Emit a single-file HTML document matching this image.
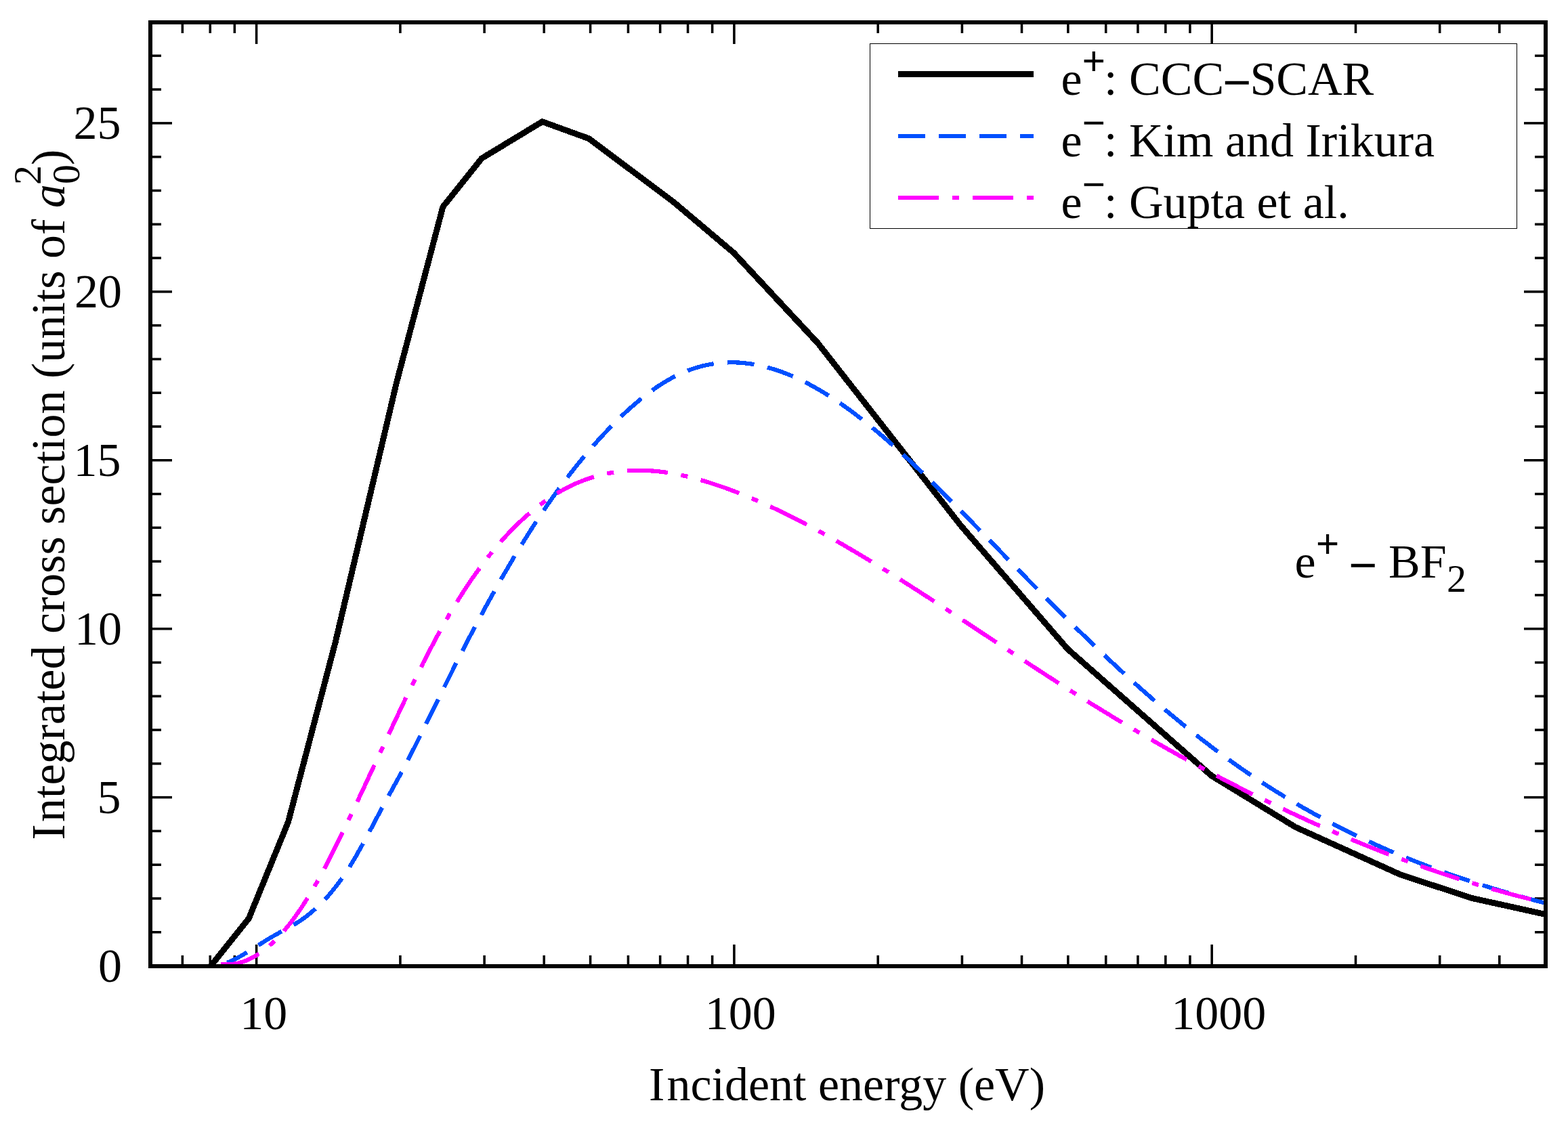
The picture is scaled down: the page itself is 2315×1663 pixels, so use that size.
<!DOCTYPE html>
<html lang="en"><head><meta charset="utf-8"><title>Integrated cross section</title>
<style>html,body{margin:0;padding:0;background:#fff}svg{display:block}text{font-family:"Liberation Serif","DejaVu Serif",serif;fill:#000}.t{font-size:70px}.s{font-size:58px}</style></head><body>
<svg width="2315" height="1663" viewBox="0 0 2315 1663">
<rect x="0" y="0" width="2315" height="1663" fill="#fff"/>
<defs><clipPath id="c"><rect x="222.0" y="33.0" width="2060.0" height="1394.0"/></clipPath></defs>
<g stroke="#000" stroke-width="3.55">
<line x1="269.37" y1="33.0" x2="269.37" y2="49.0"/>
<line x1="269.37" y1="1427.0" x2="269.37" y2="1411.0"/>
<line x1="310.27" y1="33.0" x2="310.27" y2="49.0"/>
<line x1="310.27" y1="1427.0" x2="310.27" y2="1411.0"/>
<line x1="346.34" y1="33.0" x2="346.34" y2="49.0"/>
<line x1="346.34" y1="1427.0" x2="346.34" y2="1411.0"/>
<line x1="378.62" y1="33.0" x2="378.62" y2="65.0"/>
<line x1="378.62" y1="1427.0" x2="378.62" y2="1395.0"/>
<line x1="590.93" y1="33.0" x2="590.93" y2="49.0"/>
<line x1="590.93" y1="1427.0" x2="590.93" y2="1411.0"/>
<line x1="715.12" y1="33.0" x2="715.12" y2="49.0"/>
<line x1="715.12" y1="1427.0" x2="715.12" y2="1411.0"/>
<line x1="803.24" y1="33.0" x2="803.24" y2="49.0"/>
<line x1="803.24" y1="1427.0" x2="803.24" y2="1411.0"/>
<line x1="871.59" y1="33.0" x2="871.59" y2="49.0"/>
<line x1="871.59" y1="1427.0" x2="871.59" y2="1411.0"/>
<line x1="927.43" y1="33.0" x2="927.43" y2="49.0"/>
<line x1="927.43" y1="1427.0" x2="927.43" y2="1411.0"/>
<line x1="974.65" y1="33.0" x2="974.65" y2="49.0"/>
<line x1="974.65" y1="1427.0" x2="974.65" y2="1411.0"/>
<line x1="1015.55" y1="33.0" x2="1015.55" y2="49.0"/>
<line x1="1015.55" y1="1427.0" x2="1015.55" y2="1411.0"/>
<line x1="1051.63" y1="33.0" x2="1051.63" y2="49.0"/>
<line x1="1051.63" y1="1427.0" x2="1051.63" y2="1411.0"/>
<line x1="1083.90" y1="33.0" x2="1083.90" y2="65.0"/>
<line x1="1083.90" y1="1427.0" x2="1083.90" y2="1395.0"/>
<line x1="1296.21" y1="33.0" x2="1296.21" y2="49.0"/>
<line x1="1296.21" y1="1427.0" x2="1296.21" y2="1411.0"/>
<line x1="1420.40" y1="33.0" x2="1420.40" y2="49.0"/>
<line x1="1420.40" y1="1427.0" x2="1420.40" y2="1411.0"/>
<line x1="1508.52" y1="33.0" x2="1508.52" y2="49.0"/>
<line x1="1508.52" y1="1427.0" x2="1508.52" y2="1411.0"/>
<line x1="1576.87" y1="33.0" x2="1576.87" y2="49.0"/>
<line x1="1576.87" y1="1427.0" x2="1576.87" y2="1411.0"/>
<line x1="1632.71" y1="33.0" x2="1632.71" y2="49.0"/>
<line x1="1632.71" y1="1427.0" x2="1632.71" y2="1411.0"/>
<line x1="1679.93" y1="33.0" x2="1679.93" y2="49.0"/>
<line x1="1679.93" y1="1427.0" x2="1679.93" y2="1411.0"/>
<line x1="1720.83" y1="33.0" x2="1720.83" y2="49.0"/>
<line x1="1720.83" y1="1427.0" x2="1720.83" y2="1411.0"/>
<line x1="1756.91" y1="33.0" x2="1756.91" y2="49.0"/>
<line x1="1756.91" y1="1427.0" x2="1756.91" y2="1411.0"/>
<line x1="1789.18" y1="33.0" x2="1789.18" y2="65.0"/>
<line x1="1789.18" y1="1427.0" x2="1789.18" y2="1395.0"/>
<line x1="2001.49" y1="33.0" x2="2001.49" y2="49.0"/>
<line x1="2001.49" y1="1427.0" x2="2001.49" y2="1411.0"/>
<line x1="2125.68" y1="33.0" x2="2125.68" y2="49.0"/>
<line x1="2125.68" y1="1427.0" x2="2125.68" y2="1411.0"/>
<line x1="2213.80" y1="33.0" x2="2213.80" y2="49.0"/>
<line x1="2213.80" y1="1427.0" x2="2213.80" y2="1411.0"/>
<line x1="222.0" y1="1376.76" x2="238.0" y2="1376.76"/>
<line x1="2282.0" y1="1376.76" x2="2266.0" y2="1376.76"/>
<line x1="222.0" y1="1326.98" x2="238.0" y2="1326.98"/>
<line x1="2282.0" y1="1326.98" x2="2266.0" y2="1326.98"/>
<line x1="222.0" y1="1277.19" x2="238.0" y2="1277.19"/>
<line x1="2282.0" y1="1277.19" x2="2266.0" y2="1277.19"/>
<line x1="222.0" y1="1227.41" x2="238.0" y2="1227.41"/>
<line x1="2282.0" y1="1227.41" x2="2266.0" y2="1227.41"/>
<line x1="222.0" y1="1177.62" x2="254.0" y2="1177.62"/>
<line x1="2282.0" y1="1177.62" x2="2250.0" y2="1177.62"/>
<line x1="222.0" y1="1127.84" x2="238.0" y2="1127.84"/>
<line x1="2282.0" y1="1127.84" x2="2266.0" y2="1127.84"/>
<line x1="222.0" y1="1078.05" x2="238.0" y2="1078.05"/>
<line x1="2282.0" y1="1078.05" x2="2266.0" y2="1078.05"/>
<line x1="222.0" y1="1028.26" x2="238.0" y2="1028.26"/>
<line x1="2282.0" y1="1028.26" x2="2266.0" y2="1028.26"/>
<line x1="222.0" y1="978.48" x2="238.0" y2="978.48"/>
<line x1="2282.0" y1="978.48" x2="2266.0" y2="978.48"/>
<line x1="222.0" y1="928.69" x2="254.0" y2="928.69"/>
<line x1="2282.0" y1="928.69" x2="2250.0" y2="928.69"/>
<line x1="222.0" y1="878.91" x2="238.0" y2="878.91"/>
<line x1="2282.0" y1="878.91" x2="2266.0" y2="878.91"/>
<line x1="222.0" y1="829.12" x2="238.0" y2="829.12"/>
<line x1="2282.0" y1="829.12" x2="2266.0" y2="829.12"/>
<line x1="222.0" y1="779.34" x2="238.0" y2="779.34"/>
<line x1="2282.0" y1="779.34" x2="2266.0" y2="779.34"/>
<line x1="222.0" y1="729.55" x2="238.0" y2="729.55"/>
<line x1="2282.0" y1="729.55" x2="2266.0" y2="729.55"/>
<line x1="222.0" y1="679.76" x2="254.0" y2="679.76"/>
<line x1="2282.0" y1="679.76" x2="2250.0" y2="679.76"/>
<line x1="222.0" y1="629.98" x2="238.0" y2="629.98"/>
<line x1="2282.0" y1="629.98" x2="2266.0" y2="629.98"/>
<line x1="222.0" y1="580.19" x2="238.0" y2="580.19"/>
<line x1="2282.0" y1="580.19" x2="2266.0" y2="580.19"/>
<line x1="222.0" y1="530.41" x2="238.0" y2="530.41"/>
<line x1="2282.0" y1="530.41" x2="2266.0" y2="530.41"/>
<line x1="222.0" y1="480.62" x2="238.0" y2="480.62"/>
<line x1="2282.0" y1="480.62" x2="2266.0" y2="480.62"/>
<line x1="222.0" y1="430.84" x2="254.0" y2="430.84"/>
<line x1="2282.0" y1="430.84" x2="2250.0" y2="430.84"/>
<line x1="222.0" y1="381.05" x2="238.0" y2="381.05"/>
<line x1="2282.0" y1="381.05" x2="2266.0" y2="381.05"/>
<line x1="222.0" y1="331.26" x2="238.0" y2="331.26"/>
<line x1="2282.0" y1="331.26" x2="2266.0" y2="331.26"/>
<line x1="222.0" y1="281.48" x2="238.0" y2="281.48"/>
<line x1="2282.0" y1="281.48" x2="2266.0" y2="281.48"/>
<line x1="222.0" y1="231.69" x2="238.0" y2="231.69"/>
<line x1="2282.0" y1="231.69" x2="2266.0" y2="231.69"/>
<line x1="222.0" y1="181.91" x2="254.0" y2="181.91"/>
<line x1="2282.0" y1="181.91" x2="2250.0" y2="181.91"/>
<line x1="222.0" y1="132.12" x2="238.0" y2="132.12"/>
<line x1="2282.0" y1="132.12" x2="2266.0" y2="132.12"/>
<line x1="222.0" y1="82.34" x2="238.0" y2="82.34"/>
<line x1="2282.0" y1="82.34" x2="2266.0" y2="82.34"/>
</g>
<g clip-path="url(#c)" fill="none" stroke-linejoin="round" shape-rendering="crispEdges">
<polyline points="311.0,1427.0 367.3,1356.6 425.5,1214.0 495.2,948.4 585.2,566.1 653.9,305.4 711.2,233.9 800.6,179.7 869.3,204.6 994.3,298.2 1083.3,373.4 1207.6,506.9 1418.2,775.8 1576.2,958.5 1788.8,1145.8 1912.5,1221.5 2067.7,1291.8 2173.2,1326.5 2282.0,1350.5" stroke="#000" stroke-width="8.9"/>
<polyline points="335.4,1421.9 340.3,1419.8 345.2,1417.5 350.0,1415.0 354.9,1412.3 359.8,1409.5 364.7,1406.6 369.6,1403.6 374.4,1400.5 379.3,1397.4 384.2,1394.3 389.1,1391.3 393.9,1388.2 398.8,1385.2 403.7,1382.4 408.6,1379.6 413.5,1376.9 418.3,1374.3 423.2,1371.7 428.1,1369.1 433.0,1366.3 437.9,1363.3 442.7,1360.2 447.6,1356.8 452.5,1353.2 457.4,1349.3 462.2,1345.2 467.1,1340.9 472.0,1336.3 476.9,1331.4 481.8,1326.2 486.6,1320.7 491.5,1314.8 496.4,1308.7 501.3,1302.2 506.2,1295.4 511.0,1288.2 515.9,1280.6 520.8,1272.6 525.7,1264.3 530.5,1255.7 535.4,1246.9 540.3,1237.9 545.2,1228.8 550.1,1219.6 554.9,1210.4 559.8,1201.2 564.7,1192.1 569.6,1183.1 574.5,1174.2 579.3,1165.3 584.2,1156.4 589.1,1147.4 594.0,1138.3 598.8,1129.0 603.7,1119.7 608.6,1110.2 613.5,1100.6 618.4,1090.8 623.2,1081.1 628.1,1071.2 633.0,1061.3 637.9,1051.4 642.8,1041.5 647.6,1031.6 652.5,1021.6 657.4,1011.8 662.3,1001.9 667.2,992.1 672.0,982.4 676.9,972.8 681.8,963.2 686.7,953.7 691.5,944.3 696.4,934.9 701.3,925.7 706.2,916.5 711.1,907.4 715.9,898.4 720.8,889.5 725.7,880.6 730.6,871.9 735.5,863.2 740.3,854.6 745.2,846.2 750.1,837.8 755.0,829.5 759.8,821.3 764.7,813.2 769.6,805.3 774.5,797.4 779.4,789.6 784.2,781.9 789.1,774.4 794.0,766.9 798.9,759.6 803.8,752.3 808.6,745.2 813.5,738.2 818.4,731.3 823.3,724.5 828.1,717.9 833.0,711.3 837.9,704.9 842.8,698.5 847.7,692.3 852.5,686.2 857.4,680.2 862.3,674.3 867.2,668.5 872.1,662.8 876.9,657.2 881.8,651.7 886.7,646.3 891.6,641.0 896.5,635.9 901.3,630.8 906.2,625.8 911.1,621.0 916.0,616.2 920.8,611.6 925.7,607.0 930.6,602.6 935.5,598.3 940.4,594.2 945.2,590.1 950.1,586.2 955.0,582.4 959.9,578.7 964.8,575.2 969.6,571.8 974.5,568.6 979.4,565.5 984.3,562.6 989.1,559.8 994.0,557.1 998.9,554.6 1003.8,552.3 1008.7,550.1 1013.5,548.1 1018.4,546.3 1023.3,544.6 1028.2,543.0 1033.1,541.6 1037.9,540.3 1042.8,539.2 1047.7,538.3 1052.6,537.4 1057.4,536.7 1062.3,536.2 1067.2,535.8 1072.1,535.5 1077.0,535.3 1081.8,535.3 1086.7,535.4 1091.6,535.6 1096.5,536.0 1101.4,536.5 1106.2,537.1 1111.1,537.9 1116.0,538.7 1120.9,539.7 1125.7,540.8 1130.6,542.0 1135.5,543.3 1140.4,544.7 1145.3,546.2 1150.1,547.9 1155.0,549.6 1159.9,551.5 1164.8,553.4 1169.7,555.5 1174.5,557.6 1179.4,559.9 1184.3,562.2 1189.2,564.7 1194.1,567.2 1198.9,569.9 1203.8,572.6 1208.7,575.4 1213.6,578.3 1218.4,581.2 1223.3,584.3 1228.2,587.4 1233.1,590.6 1238.0,593.9 1242.8,597.3 1247.7,600.7 1252.6,604.2 1257.5,607.8 1262.4,611.5 1267.2,615.2 1272.1,619.0 1277.0,622.8 1281.9,626.7 1286.7,630.7 1291.6,634.7 1296.5,638.8 1301.4,642.9 1306.3,647.1 1311.1,651.4 1316.0,655.7 1320.9,660.0 1325.8,664.4 1330.7,668.8 1335.5,673.3 1340.4,677.8 1345.3,682.4 1350.2,687.0 1355.0,691.6 1359.9,696.3 1364.8,701.0 1369.7,705.7 1374.6,710.5 1379.4,715.3 1384.3,720.1 1389.2,725.0 1394.1,729.8 1399.0,734.7 1403.8,739.6 1408.7,744.5 1413.6,749.5 1418.5,754.4 1423.3,759.4 1428.2,764.4 1433.1,769.4 1438.0,774.4 1442.9,779.4 1447.7,784.4 1452.6,789.4 1457.5,794.4 1462.4,799.4 1467.3,804.4 1472.1,809.4 1477.0,814.4 1481.9,819.5 1486.8,824.5 1491.7,829.5 1496.5,834.5 1501.4,839.5 1506.3,844.5 1511.2,849.4 1516.0,854.4 1520.9,859.4 1525.8,864.4 1530.7,869.3 1535.6,874.3 1540.4,879.2 1545.3,884.1 1550.2,889.0 1555.1,894.0 1560.0,898.8 1564.8,903.7 1569.7,908.6 1574.6,913.4 1579.5,918.3 1584.3,923.1 1589.2,927.9 1594.1,932.7 1599.0,937.4 1603.9,942.2 1608.7,946.9 1613.6,951.6 1618.5,956.3 1623.4,960.9 1628.3,965.6 1633.1,970.2 1638.0,974.8 1642.9,979.4 1647.8,983.9 1652.6,988.4 1657.5,992.9 1662.4,997.4 1667.3,1001.8 1672.2,1006.2 1677.0,1010.6 1681.9,1015.0 1686.8,1019.3 1691.7,1023.6 1696.6,1027.9 1701.4,1032.1 1706.3,1036.3 1711.2,1040.5 1716.1,1044.7 1720.9,1048.8 1725.8,1052.9 1730.7,1057.0 1735.6,1061.0 1740.5,1065.0 1745.3,1069.0 1750.2,1073.0 1755.1,1076.9 1760.0,1080.8 1764.9,1084.7 1769.7,1088.5 1774.6,1092.3 1779.5,1096.1 1784.4,1099.8 1789.3,1103.5 1794.1,1107.2 1799.0,1110.8 1803.9,1114.4 1808.8,1118.0 1813.6,1121.5 1818.5,1125.0 1823.4,1128.5 1828.3,1132.0 1833.2,1135.4 1838.0,1138.7 1842.9,1142.1 1847.8,1145.4 1852.7,1148.6 1857.6,1151.9 1862.4,1155.1 1867.3,1158.3 1872.2,1161.4 1877.1,1164.5 1881.9,1167.6 1886.8,1170.6 1891.7,1173.6 1896.6,1176.6 1901.5,1179.6 1906.3,1182.5 1911.2,1185.4 1916.1,1188.2 1921.0,1191.1 1925.9,1193.9 1930.7,1196.6 1935.6,1199.4 1940.5,1202.1 1945.4,1204.8 1950.2,1207.4 1955.1,1210.0 1960.0,1212.6 1964.9,1215.2 1969.8,1217.7 1974.6,1220.3 1979.5,1222.7 1984.4,1225.2 1989.3,1227.6 1994.2,1230.0 1999.0,1232.4 2003.9,1234.8 2008.8,1237.1 2013.7,1239.4 2018.6,1241.7 2023.4,1243.9 2028.3,1246.2 2033.2,1248.4 2038.1,1250.6 2042.9,1252.7 2047.8,1254.8 2052.7,1257.0 2057.6,1259.0 2062.5,1261.1 2067.3,1263.1 2072.2,1265.2 2077.1,1267.1 2082.0,1269.1 2086.9,1271.1 2091.7,1273.0 2096.6,1274.9 2101.5,1276.8 2106.4,1278.7 2111.2,1280.5 2116.1,1282.3 2121.0,1284.1 2125.9,1285.9 2130.8,1287.7 2135.6,1289.4 2140.5,1291.2 2145.4,1292.9 2150.3,1294.6 2155.2,1296.2 2160.0,1297.9 2164.9,1299.5 2169.8,1301.1 2174.7,1302.7 2179.5,1304.3 2184.4,1305.9 2189.3,1307.4 2194.2,1309.0 2199.1,1310.5 2203.9,1312.0 2208.8,1313.4 2213.7,1314.9 2218.6,1316.4 2223.5,1317.8 2228.3,1319.2 2233.2,1320.6 2238.1,1322.0 2243.0,1323.4 2247.8,1324.8 2252.7,1326.1 2257.6,1327.5 2262.5,1328.8 2267.4,1330.1 2272.2,1331.4 2277.1,1332.7 2282.0,1334.0" stroke="#0050ff" stroke-width="6.2" stroke-dasharray="40 20" stroke-dashoffset="7"/>
<polyline points="325.6,1423.7 330.5,1424.2 335.4,1424.4 340.3,1424.2 345.2,1423.6 350.1,1422.8 355.0,1421.6 359.9,1420.0 364.8,1418.1 369.7,1415.9 374.6,1413.3 379.5,1410.4 384.4,1407.2 389.3,1403.6 394.2,1399.7 399.1,1395.5 404.1,1390.9 409.0,1386.0 413.9,1380.9 418.8,1375.3 423.7,1369.5 428.6,1363.4 433.5,1356.9 438.4,1350.1 443.3,1343.0 448.2,1335.6 453.1,1327.9 458.0,1319.9 462.9,1311.6 467.8,1303.1 472.7,1294.3 477.6,1285.2 482.5,1275.9 487.4,1266.5 492.3,1256.8 497.2,1247.0 502.1,1237.1 507.0,1227.0 511.9,1216.9 516.8,1206.6 521.7,1196.3 526.6,1185.9 531.5,1175.4 536.4,1165.0 541.3,1154.5 546.2,1143.9 551.1,1133.4 556.1,1122.8 561.0,1112.2 565.9,1101.7 570.8,1091.2 575.7,1080.7 580.6,1070.2 585.5,1059.8 590.4,1049.4 595.3,1039.1 600.2,1028.9 605.1,1018.8 610.0,1008.7 614.9,998.8 619.8,989.0 624.7,979.2 629.6,969.6 634.5,960.2 639.4,950.9 644.3,941.7 649.2,932.7 654.1,923.9 659.0,915.2 663.9,906.8 668.8,898.5 673.7,890.5 678.6,882.6 683.5,874.9 688.4,867.4 693.3,860.1 698.2,852.9 703.2,846.0 708.1,839.2 713.0,832.6 717.9,826.2 722.8,819.9 727.7,813.9 732.6,808.0 737.5,802.3 742.4,796.7 747.3,791.3 752.2,786.1 757.1,781.0 762.0,776.1 766.9,771.4 771.8,766.8 776.7,762.4 781.6,758.2 786.5,754.1 791.4,750.1 796.3,746.3 801.2,742.7 806.1,739.2 811.0,735.8 815.9,732.6 820.8,729.6 825.7,726.6 830.6,723.9 835.5,721.2 840.4,718.7 845.3,716.3 850.2,714.1 855.2,712.0 860.1,710.0 865.0,708.2 869.9,706.5 874.8,704.9 879.7,703.4 884.6,702.1 889.5,700.9 894.4,699.7 899.3,698.8 904.2,697.9 909.1,697.1 914.0,696.5 918.9,695.9 923.8,695.5 928.7,695.1 933.6,694.9 938.5,694.8 943.4,694.7 948.3,694.8 953.2,694.9 958.1,695.2 963.0,695.5 967.9,695.9 972.8,696.4 977.7,697.0 982.6,697.6 987.5,698.4 992.4,699.2 997.3,700.1 1002.2,701.0 1007.2,702.1 1012.1,703.1 1017.0,704.3 1021.9,705.5 1026.8,706.8 1031.7,708.2 1036.6,709.6 1041.5,711.0 1046.4,712.5 1051.3,714.1 1056.2,715.7 1061.1,717.3 1066.0,719.0 1070.9,720.7 1075.8,722.5 1080.7,724.3 1085.6,726.2 1090.5,728.1 1095.4,730.0 1100.3,732.0 1105.2,734.0 1110.1,736.1 1115.0,738.2 1119.9,740.3 1124.8,742.5 1129.7,744.7 1134.6,746.9 1139.5,749.1 1144.4,751.4 1149.3,753.8 1154.3,756.1 1159.2,758.5 1164.1,760.9 1169.0,763.4 1173.9,765.9 1178.8,768.4 1183.7,770.9 1188.6,773.5 1193.5,776.1 1198.4,778.7 1203.3,781.3 1208.2,784.0 1213.1,786.7 1218.0,789.4 1222.9,792.2 1227.8,794.9 1232.7,797.7 1237.6,800.5 1242.5,803.3 1247.4,806.2 1252.3,809.0 1257.2,811.9 1262.1,814.8 1267.0,817.7 1271.9,820.7 1276.8,823.6 1281.7,826.6 1286.6,829.5 1291.5,832.5 1296.4,835.5 1301.3,838.6 1306.3,841.6 1311.2,844.7 1316.1,847.7 1321.0,850.8 1325.9,853.9 1330.8,857.0 1335.7,860.1 1340.6,863.2 1345.5,866.3 1350.4,869.5 1355.3,872.6 1360.2,875.8 1365.1,879.0 1370.0,882.1 1374.9,885.3 1379.8,888.5 1384.7,891.7 1389.6,894.9 1394.5,898.1 1399.4,901.3 1404.3,904.6 1409.2,907.8 1414.1,911.0 1419.0,914.3 1423.9,917.5 1428.8,920.7 1433.7,924.0 1438.6,927.2 1443.5,930.5 1448.4,933.7 1453.3,937.0 1458.3,940.2 1463.2,943.5 1468.1,946.7 1473.0,950.0 1477.9,953.2 1482.8,956.4 1487.7,959.7 1492.6,962.9 1497.5,966.2 1502.4,969.4 1507.3,972.6 1512.2,975.8 1517.1,979.1 1522.0,982.3 1526.9,985.5 1531.8,988.7 1536.7,991.9 1541.6,995.1 1546.5,998.3 1551.4,1001.4 1556.3,1004.6 1561.2,1007.8 1566.1,1010.9 1571.0,1014.0 1575.9,1017.2 1580.8,1020.3 1585.7,1023.4 1590.6,1026.5 1595.5,1029.6 1600.4,1032.6 1605.4,1035.7 1610.3,1038.8 1615.2,1041.8 1620.1,1044.8 1625.0,1047.8 1629.9,1050.9 1634.8,1053.8 1639.7,1056.8 1644.6,1059.8 1649.5,1062.8 1654.4,1065.7 1659.3,1068.6 1664.2,1071.6 1669.1,1074.5 1674.0,1077.4 1678.9,1080.3 1683.8,1083.1 1688.7,1086.0 1693.6,1088.9 1698.5,1091.7 1703.4,1094.5 1708.3,1097.3 1713.2,1100.1 1718.1,1102.9 1723.0,1105.7 1727.9,1108.5 1732.8,1111.2 1737.7,1114.0 1742.6,1116.7 1747.5,1119.4 1752.4,1122.1 1757.4,1124.8 1762.3,1127.5 1767.2,1130.2 1772.1,1132.8 1777.0,1135.5 1781.9,1138.1 1786.8,1140.7 1791.7,1143.3 1796.6,1145.9 1801.5,1148.5 1806.4,1151.1 1811.3,1153.6 1816.2,1156.2 1821.1,1158.7 1826.0,1161.2 1830.9,1163.7 1835.8,1166.2 1840.7,1168.7 1845.6,1171.1 1850.5,1173.6 1855.4,1176.0 1860.3,1178.4 1865.2,1180.8 1870.1,1183.2 1875.0,1185.6 1879.9,1188.0 1884.8,1190.4 1889.7,1192.7 1894.6,1195.0 1899.5,1197.3 1904.4,1199.6 1909.4,1201.9 1914.3,1204.2 1919.2,1206.5 1924.1,1208.7 1929.0,1211.0 1933.9,1213.2 1938.8,1215.4 1943.7,1217.6 1948.6,1219.8 1953.5,1221.9 1958.4,1224.1 1963.3,1226.2 1968.2,1228.3 1973.1,1230.4 1978.0,1232.5 1982.9,1234.6 1987.8,1236.7 1992.7,1238.7 1997.6,1240.8 2002.5,1242.8 2007.4,1244.8 2012.3,1246.8 2017.2,1248.8 2022.1,1250.8 2027.0,1252.7 2031.9,1254.6 2036.8,1256.6 2041.7,1258.5 2046.6,1260.4 2051.5,1262.3 2056.5,1264.1 2061.4,1266.0 2066.3,1267.8 2071.2,1269.6 2076.1,1271.4 2081.0,1273.2 2085.9,1275.0 2090.8,1276.8 2095.7,1278.5 2100.6,1280.2 2105.5,1282.0 2110.4,1283.7 2115.3,1285.3 2120.2,1287.0 2125.1,1288.7 2130.0,1290.3 2134.9,1291.9 2139.8,1293.5 2144.7,1295.1 2149.6,1296.7 2154.5,1298.3 2159.4,1299.8 2164.3,1301.4 2169.2,1302.9 2174.1,1304.4 2179.0,1305.9 2183.9,1307.4 2188.8,1308.8 2193.7,1310.2 2198.6,1311.7 2203.5,1313.1 2208.5,1314.5 2213.4,1315.8 2218.3,1317.2 2223.2,1318.6 2228.1,1319.9 2233.0,1321.2 2237.9,1322.5 2242.8,1323.8 2247.7,1325.0 2252.6,1326.3 2257.5,1327.5 2262.4,1328.7 2267.3,1329.9 2272.2,1331.1 2277.1,1332.3 2282.0,1333.4" stroke="#ff00ff" stroke-width="6.2" stroke-dasharray="60 20 10 20" stroke-dashoffset="0"/>
</g>
<rect x="222.0" y="33.0" width="2060.0" height="1394.0" fill="none" stroke="#000" stroke-width="6" shape-rendering="crispEdges"/>
<text class="t" x="179.9" y="1449.9" text-anchor="end">0</text>
<text class="t" x="178.4" y="1201.0" text-anchor="end">5</text>
<text class="t" x="179.9" y="952.0" text-anchor="end">10</text>
<text class="t" x="178.4" y="703.1" text-anchor="end">15</text>
<text class="t" x="179.9" y="454.2" text-anchor="end">20</text>
<text class="t" x="178.4" y="205.3" text-anchor="end">25</text>
<text class="t" x="354.3" y="1520">10</text>
<text class="t" x="1040.7" y="1520">100</text>
<text class="t" x="1729.3" y="1520">1000</text>
<text class="t" x="957.9" y="1625" dx="0 3.3">Incident energy (eV)</text>
<g transform="translate(95.2 0) rotate(-90)"><text class="t" x="-1240.6" y="0" dx="0 3.3" xml:space="preserve">Integrated cross section (units of </text><text class="t" x="-306.9" y="0" font-style="italic">a</text><text class="s" x="-271.9" y="21.3">0</text><text class="s" x="-272.9" y="-35.3">2</text><text class="t" x="-244" y="0">)</text></g>
<rect x="1284.5" y="64.5" width="955" height="273" fill="#fff" stroke="#000" stroke-width="1" shape-rendering="crispEdges"/>
<g fill="none" shape-rendering="crispEdges">
<line x1="1326" y1="109.5" x2="1526" y2="109.5" stroke="#000" stroke-width="9"/>
<line x1="1326" y1="201" x2="1526" y2="201" stroke="#0050ff" stroke-width="6" stroke-dasharray="40 20"/>
<line x1="1326" y1="292" x2="1526" y2="292" stroke="#ff00ff" stroke-width="6" stroke-dasharray="60 20 10 20"/>
</g>
<text class="t" x="1566.6" y="140.2" xml:space="preserve">e<tspan x="1597.8" y="110" style="font-family:'Liberation Sans','DejaVu Sans',sans-serif;font-size:58.5px">+</tspan><tspan x="1630.1" y="140.2">: CCC</tspan><tspan x="1805" y="146.1" style="font-family:'Liberation Sans','DejaVu Sans',sans-serif;font-size:72px">−</tspan><tspan x="1845.4" y="140.2">SCAR</tspan></text>
<text class="t" x="1566.6" y="231.4" xml:space="preserve">e<tspan x="1597.8" y="201.05" style="font-family:'Liberation Sans','DejaVu Sans',sans-serif;font-size:58.5px">−</tspan><tspan x="1630.1" y="231.4">: Kim and Irikura</tspan></text>
<text class="t" x="1566.6" y="322.3" xml:space="preserve">e<tspan x="1597.8" y="291.9" style="font-family:'Liberation Sans','DejaVu Sans',sans-serif;font-size:58.5px">−</tspan><tspan x="1630.1" y="322.3">: Gupta et al.</tspan></text>
<text class="t" x="1911.6" y="852.9" xml:space="preserve">e<tspan x="1943" y="822.8" style="font-family:'Liberation Sans','DejaVu Sans',sans-serif;font-size:58.5px">+</tspan><tspan x="1991" y="858.7" style="font-family:'Liberation Sans','DejaVu Sans',sans-serif;font-size:72px">−</tspan><tspan x="2050" y="852.9">BF</tspan><tspan class="s" x="2136" y="873.6">2</tspan></text>
</svg></body></html>
